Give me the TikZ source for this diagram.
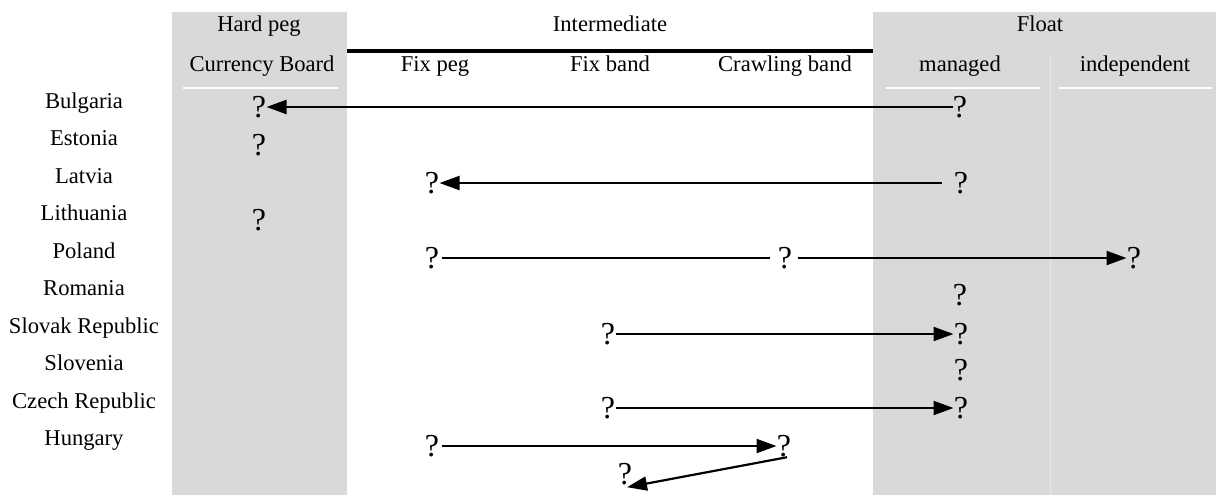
\documentclass[tikz,border=0pt]{standalone}
\usepackage{fontspec}
\setmainfont{Liberation Serif}
\usetikzlibrary{arrows.meta}
\definecolor{band}{HTML}{D9D9D9}
\definecolor{faint}{HTML}{E6E6E6}
\tikzset{
  lbl/.style={inner sep=0pt, anchor=base, font=\fontsize{11.3}{13}\selectfont},
  qmark/.style={inner sep=0pt, font=\fontsize{16}{18}\selectfont},
  move/.style={line width=1.1pt, -{Triangle[length=10pt,width=7pt]}},
  link/.style={line width=1.1pt},
  sep/.style={white, line width=0.6pt},
}
\begin{document}
\begin{tikzpicture}[x=0.5pt,y=-0.5pt]
\useasboundingbox (0,0) rectangle (1220,495);
% shaded regime columns
\fill[band] (172,12) rectangle (347,495);
\fill[band] (873,12) rectangle (1216,495);
\draw[faint, line width=0.5pt] (1050,55) -- (1050,495);
\draw[sep] (183,88) -- (338,88);
\draw[sep] (886,88) -- (1040,88);
\draw[sep] (1059,88) -- (1212,88);
% header rule over the intermediate regimes
\draw[line width=1.8pt] (347,51) -- (873,51);
% header texts
\node[lbl] (hhard) at (259,31) {Hard peg};
\node[lbl] (hint) at (610,31) {Intermediate};
\node[lbl] (hfloat) at (1040,31) {Float};
\node[lbl] (ccb) at (262,71) {Currency Board};
\node[lbl] (cfp) at (435,71) {Fix peg};
\node[lbl] (cfb) at (610,71) {Fix band};
\node[lbl] (ccr) at (785,71) {Crawling band};
\node[lbl] (cma) at (960,71) {managed};
\node[lbl] (cin) at (1135,71) {independent};
% countries
\node[lbl] (r1) at (84,108) {Bulgaria};
\node[lbl] (r2) at (84,145.5) {Estonia};
\node[lbl] (r3) at (84,183) {Latvia};
\node[lbl] (r4) at (84,220.5) {Lithuania};
\node[lbl] (r5) at (84,258) {Poland};
\node[lbl] (r6) at (84,295.5) {Romania};
\node[lbl] (r7) at (84,333) {Slovak Republic};
\node[lbl] (r8) at (84,370.5) {Slovenia};
\node[lbl] (r9) at (84,408) {Czech Republic};
\node[lbl] (r10) at (84,445.5) {Hungary};
% regime marks
\node[qmark] (bgc) at (259,107) {?};
\node[qmark] (bgm) at (960,107) {?};
\node[qmark] (eec) at (259,145) {?};
\node[qmark] (lvf) at (432,183) {?};
\node[qmark] (lvm) at (961,183) {?};
\node[qmark] (ltc) at (259,220) {?};
\node[qmark] (plf) at (432,258) {?};
\node[qmark] (plc) at (785,258) {?};
\node[qmark] (pli) at (1134,258) {?};
\node[qmark] (rom) at (960,295) {?};
\node[qmark] (skb) at (608,334) {?};
\node[qmark] (skm) at (961,334) {?};
\node[qmark] (sim) at (961,370) {?};
\node[qmark] (czb) at (608,408) {?};
\node[qmark] (czm) at (961,408) {?};
\node[qmark] (huf) at (432,446) {?};
\node[qmark] (huc) at (784,446) {?};
\node[qmark] (hub) at (625,474) {?};
% regime changes
\draw[move] (bgm.west) -- (bgc.east);
\draw[move, shorten <=6pt] (lvm.west) -- (lvf.east);
\draw[link, shorten >=4pt, shorten <=1pt] (plf.east) -- (plc.west);
\draw[move, shorten <=2.5pt] (plc.east) -- (pli.west);
\draw[move] (skb.east) -- (skm.west);
\draw[move] (czb.east) -- (czm.west);
\draw[move, shorten <=1pt] (huf.east) -- (huc.west);
\draw[move] ([xshift=1.5pt]huc.south) -- ([xshift=1pt,yshift=-1pt]hub.south);
\end{tikzpicture}
\end{document}
